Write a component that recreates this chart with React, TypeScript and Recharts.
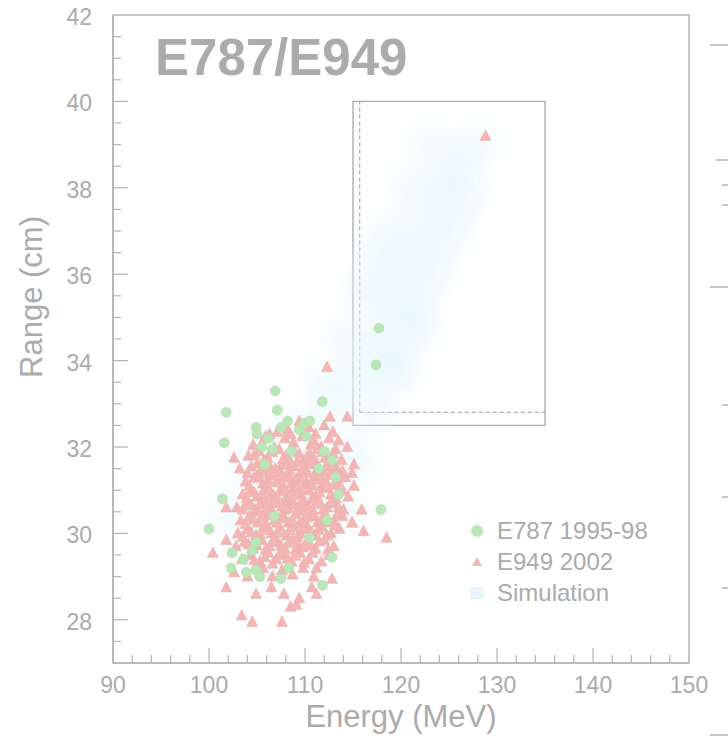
import React from 'react';
import {
  ScatterChart,
  Scatter,
  XAxis,
  YAxis,
  ReferenceArea,
  ReferenceLine,
} from 'recharts';

// tick positions (majors get labels)
const xTicks = [90, 92, 94, 96, 98, 100, 102, 104, 106, 108, 110, 112, 114, 116, 118, 120, 122, 124, 126, 128, 130, 132, 134, 136, 138, 140, 142, 144, 146, 148, 150];
const yTicks = [27, 27.5, 28, 28.5, 29, 29.5, 30, 30.5, 31, 31.5, 32, 32.5, 33, 33.5, 34, 34.5, 35, 35.5, 36, 36.5, 37, 37.5, 38, 38.5, 39, 39.5, 40, 40.5, 41, 41.5, 42];

// [energy MeV, range cm]
const e787: number[][] = [
  [106.9, 33.3], [101.8, 32.8], [101.6, 32.1], [107.1, 32.85], [111.8, 33.05], [104.9, 32.45],
  [107.5, 32.45], [105.5, 32.0], [106.6, 31.95], [109.4, 32.4], [110.1, 32.25], [112.8, 31.7],
  [113.2, 31.3], [101.4, 30.8], [100.0, 30.1], [117.9, 30.55], [102.4, 29.55], [103.9, 29.1],
  [104.9, 29.15], [104.5, 29.6], [104.9, 29.8], [107.5, 28.95], [111.8, 28.8], [112.8, 29.45],
  [112.3, 30.3], [102.3, 29.2], [117.7, 34.75], [117.4, 33.9], [106.2, 32.2], [108.2, 32.6],
  [109.9, 32.55], [108.6, 31.9], [105.8, 31.6], [111.4, 31.5], [106.8, 30.4], [113.5, 30.9],
  [103.6, 29.4], [105.3, 29.0], [110.5, 29.9], [108.3, 29.2], [105.0, 32.3], [110.5, 32.6],
  [112.0, 31.9],
];

const e949: number[][] = [
  [108.2, 32.4], [109.4, 32.6], [110.4, 32.45], [111.1, 32.3], [107.1, 32.35], [112.0, 32.5], [106.3, 32.3],
  [105.5, 32.1], [106.8, 32.0], [107.9, 32.2], [108.8, 32.1], [109.7, 32.25], [110.6, 32.05], [111.7, 32.0],
  [112.5, 32.2], [113.5, 32.15], [114.4, 32.0], [104.6, 32.05],
  [104.1, 31.8], [105.2, 31.9], [106.1, 31.75], [107.3, 31.95], [108.0, 31.8], [108.9, 31.9], [109.8, 31.7],
  [110.5, 31.85], [111.3, 31.95], [112.1, 31.75], [112.9, 31.85], [113.8, 31.7], [102.6, 31.75],
  [103.2, 31.5], [104.4, 31.55], [105.3, 31.45], [106.0, 31.65], [106.9, 31.5], [107.6, 31.6], [108.4, 31.45],
  [109.2, 31.65], [110.0, 31.5], [110.8, 31.6], [111.6, 31.45], [112.4, 31.65], [113.3, 31.5], [114.9, 31.4],
  [105.8, 31.4], [108.9, 31.55], [110.3, 31.4],
  [103.8, 31.2], [104.7, 31.3], [105.6, 31.15], [106.5, 31.35], [107.2, 31.2], [107.9, 31.3], [108.6, 31.15],
  [109.4, 31.35], [110.1, 31.2], [110.9, 31.3], [111.8, 31.15], [112.6, 31.35], [113.4, 31.2], [114.2, 31.3],
  [115.1, 31.1], [106.1, 31.25], [109.0, 31.25], [111.2, 31.25], [108.2, 31.38],
  [103.5, 30.9], [104.3, 31.0], [105.0, 30.85], [105.9, 31.05], [106.7, 30.9], [107.4, 31.0], [108.1, 30.85],
  [108.8, 31.05], [109.6, 30.9], [110.4, 31.0], [111.1, 30.85], [111.9, 31.05], [112.7, 30.9], [113.6, 31.0],
  [114.5, 30.85], [106.2, 30.8], [109.2, 30.95], [110.8, 31.1], [107.8, 31.08],
  [102.9, 30.6], [103.9, 30.7], [104.8, 30.55], [105.6, 30.75], [106.4, 30.6], [107.1, 30.7], [107.9, 30.55],
  [108.5, 30.75], [109.3, 30.6], [110.0, 30.7], [110.8, 30.55], [111.5, 30.75], [112.3, 30.6], [113.1, 30.7],
  [114.0, 30.55], [115.9, 30.55], [105.2, 30.5], [109.7, 30.52], [108.0, 30.78],
  [103.3, 30.3], [104.2, 30.4], [105.1, 30.25], [105.9, 30.45], [106.8, 30.3], [107.5, 30.4], [108.3, 30.25],
  [109.0, 30.45], [109.8, 30.3], [110.6, 30.4], [111.3, 30.25], [112.1, 30.45], [113.0, 30.3], [113.9, 30.4],
  [114.9, 30.25], [106.0, 30.2], [110.2, 30.2],
  [101.8, 29.85], [103.0, 30.0], [104.0, 30.1], [104.9, 29.95], [105.7, 30.15], [106.5, 30.0], [107.3, 30.1],
  [108.1, 29.95], [108.8, 30.15], [109.5, 30.0], [110.3, 30.1], [111.0, 29.95], [111.8, 30.15], [112.7, 30.0],
  [113.6, 30.1], [116.1, 30.05], [118.5, 29.9],
  [102.8, 29.7], [103.7, 29.8], [104.6, 29.65], [105.5, 29.85], [106.3, 29.7], [107.1, 29.8], [107.9, 29.65],
  [108.7, 29.85], [109.4, 29.7], [110.2, 29.8], [111.1, 29.65], [112.0, 29.85], [113.0, 29.7], [100.4, 29.55],
  [103.4, 29.4], [104.3, 29.5], [105.3, 29.35], [106.2, 29.55], [107.0, 29.4], [107.8, 29.5], [108.6, 29.35],
  [109.5, 29.55], [110.4, 29.4], [111.7, 29.35], [112.5, 29.5],
  [102.6, 29.1], [104.0, 29.0], [105.6, 29.2], [106.6, 29.0], [107.6, 29.15], [108.7, 29.05], [109.8, 29.2],
  [110.9, 29.0], [112.8, 28.95], [104.9, 29.25],
  [101.8, 28.75], [104.9, 28.6], [106.5, 28.75], [107.8, 28.6], [108.5, 28.3], [109.1, 28.35], [110.7, 28.75],
  [111.2, 28.6], [103.4, 28.1], [104.5, 27.95], [107.6, 27.95], [109.4, 28.5],
  [101.8, 30.6], [112.3, 33.85], [112.6, 32.7], [114.4, 32.7], [128.8, 39.2], [115.1, 31.6], [114.9, 30.25],
  // dense core
  [105.9, 32.25], [108.5, 32.3], [110.9, 32.15], [112.9, 32.35],
  [104.7, 31.82], [105.7, 31.7], [106.6, 31.88], [107.7, 31.72], [108.5, 31.65], [109.4, 31.85], [110.2, 31.78],
  [111.0, 31.72], [111.8, 31.88], [112.6, 31.55], [113.2, 31.95],
  [104.0, 31.4], [105.0, 31.62], [106.4, 31.52], [107.3, 31.42], [108.1, 31.58], [109.6, 31.45], [110.5, 31.62],
  [111.3, 31.5], [112.0, 31.42], [112.9, 31.58], [113.9, 31.45],
  [104.2, 31.1], [105.2, 31.28], [106.0, 31.08], [106.9, 31.18], [107.6, 31.35], [108.4, 31.28], [109.2, 31.1],
  [109.8, 31.28], [110.6, 31.15], [111.5, 31.35], [112.2, 31.2], [113.0, 31.12], [113.8, 31.3],
  [103.9, 30.82], [104.7, 30.95], [105.5, 30.92], [106.3, 31.0], [107.1, 30.85], [107.9, 30.98], [108.5, 30.9],
  [109.9, 31.05], [110.7, 30.8], [111.5, 30.95], [112.3, 31.08], [113.2, 30.82], [114.0, 30.98],
  [103.5, 30.55], [104.4, 30.65], [105.3, 30.68], [106.0, 30.6], [106.8, 30.72], [107.6, 30.62], [108.3, 30.58],
  [108.9, 30.68], [109.6, 30.75], [110.4, 30.62], [111.2, 30.68], [111.9, 30.55], [112.7, 30.72], [113.5, 30.6],
  [103.8, 30.22], [104.6, 30.32], [105.5, 30.38], [106.4, 30.42], [107.1, 30.25], [107.9, 30.35], [108.7, 30.3],
  [109.4, 30.22], [110.2, 30.38], [111.0, 30.42], [111.7, 30.3], [112.5, 30.25], [113.4, 30.45],
  [103.5, 29.92], [104.4, 30.02], [105.3, 29.98], [106.1, 30.08], [106.9, 29.92], [107.7, 30.02], [108.4, 30.08],
  [109.2, 29.92], [109.9, 30.12], [110.7, 30.02], [111.4, 30.08], [112.3, 29.95], [113.2, 30.18],
  [104.1, 29.75], [105.0, 29.72], [105.9, 29.62], [106.7, 29.82], [107.5, 29.72], [108.3, 29.78], [109.0, 29.62],
  [109.8, 29.68], [110.6, 29.72], [111.5, 29.82], [112.4, 29.62],
  [104.7, 29.38], [105.8, 29.45], [106.6, 29.3], [107.4, 29.55], [108.2, 29.42], [109.0, 29.48], [109.9, 29.32],
  [110.8, 29.55], [111.2, 29.2],
];

const simulation: number[][] = [
  [106, 30], [108, 30.5], [110, 31], [112, 31.5], [114, 32], [113, 33], [115, 33.5], [116, 34], [117, 34.5],
  [118, 35], [119, 35.5], [120, 36], [121, 36.5], [122, 37], [123, 37.5], [124, 38], [125, 38.3], [126, 38.7],
  [118, 33.5], [120, 34.5], [122, 35.5], [124, 36.5], [126, 37.5], [117, 36], [119, 37], [121, 38], [123, 39],
  [114, 34.5], [116, 35.5], [112, 33.5], [110, 32.5], [108, 31.5], [106, 29], [104, 30], [120, 33.8],
  [122, 34.8], [118, 36.5], [115, 31.5], [117, 32.8], [119, 34], [121, 35], [123, 36], [125, 37], [127, 38],
  [128, 39], [102, 30.5], [104, 31.5], [110, 29.5], [114, 30.5],
];

const toPts = (arr: number[][]) => arr.map(([e, r]) => ({ e, r }));

const AXIS = '#b4b4b4';
const TXT = '#ababab';
const BOX = '#a8a8a8';
const PINK = '#f3b6b4';
const GREEN = '#bae6b8';
const BLUE = '#e6f6fb';
const FONT = '"Liberation Sans", Arial, sans-serif';

const XTick = (props: any) => {
  const { x, y, payload } = props;
  const v = payload.value;
  const major = v % 10 === 0;
  return (
    <g>
      {v !== 90 && v !== 150 && (
        <line x1={x} x2={x} y1={y} y2={y - (major ? 15 : 8)} stroke={AXIS} strokeWidth={1.2} />
      )}
      {major && (
        <text x={x} y={y + 22} textAnchor="middle" dominantBaseline="central" fontSize={23} fill={TXT} fontFamily={FONT}>
          {v}
        </text>
      )}
    </g>
  );
};

const YTick = (props: any) => {
  const { x, y, payload } = props;
  const v = payload.value;
  const major = Number.isInteger(v) && v % 2 === 0;
  return (
    <g>
      {v !== 27 && v !== 42 && (
        <line x1={x} x2={x + (major ? 15 : 8)} y1={y} y2={y} stroke={AXIS} strokeWidth={1.2} />
      )}
      {major && (
        <text x={x - 21} y={y + 2} textAnchor="end" dominantBaseline="central" fontSize={23} fill={TXT} fontFamily={FONT}>
          {v}
        </text>
      )}
    </g>
  );
};

const Triangle = (props: any) => {
  const { cx, cy } = props;
  return (
    <polygon
      points={`${cx},${cy - 6} ${cx - 5.5},${cy + 4.5} ${cx + 5.5},${cy + 4.5}`}
      fill={PINK}
      stroke="#eaaeac"
      strokeWidth={0.6}
    />
  );
};

const Dot = (props: any) => {
  const { cx, cy } = props;
  return <circle cx={cx} cy={cy} r={5} fill={GREEN} stroke="#afdcad" strokeWidth={0.6} />;
};

// soft blob for the simulated distribution
const Cloud = (props: any) => {
  const { cx, cy, index } = props;
  return (
    <g>
      {index === 0 && (
        <defs>
          <radialGradient id="simGlow">
            <stop offset="0%" stopColor="#e2f5fa" stopOpacity={0.42} />
            <stop offset="60%" stopColor="#e8f7fb" stopOpacity={0.22} />
            <stop offset="100%" stopColor="#eef9fc" stopOpacity={0} />
          </radialGradient>
        </defs>
      )}
      <circle cx={cx} cy={cy} r={34} fill="url(#simGlow)" />
    </g>
  );
};

const YLabel = () => (
  <text
    x={42}
    y={297}
    transform="rotate(-90, 42, 297)"
    textAnchor="middle"
    fontSize={31}
    fill={TXT}
    fontFamily={FONT}
  >
    Range (cm)
  </text>
);

const rightMarks = [
  { y: 45, w: 18 },
  { y: 160, w: 12 },
  { y: 185, w: 6 },
  { y: 205, w: 6 },
  { y: 287, w: 18 },
  { y: 405, w: 6 },
  { y: 497, w: 6 },
  { y: 588, w: 6 },
  { y: 735, w: 18 },
];

const legendItems = [
  { label: 'E787 1995-98', kind: 'dot' },
  { label: 'E949 2002', kind: 'tri' },
  { label: 'Simulation', kind: 'sim' },
];

const LegendMarker = ({ kind }: { kind: string }) => (
  <svg width={18} height={18} style={{ marginRight: 11 }}>
    {kind === 'dot' && <circle cx={9} cy={9} r={6} fill={GREEN} />}
    {kind === 'tri' && <polygon points="9,4 4,13 14,13" fill={PINK} />}
    {kind === 'sim' && <rect x={2} y={3} width={14} height={12} fill={BLUE} />}
  </svg>
);

export default function App() {
  return (
    <div
      style={{
        position: 'absolute',
        left: 0,
        top: 0,
        width: 728,
        height: 741,
        background: '#fff',
        fontFamily: FONT,
        overflow: 'hidden',
      }}
    >
      <ScatterChart width={728} height={741} margin={{ top: 15, right: 39, bottom: 0, left: 0 }}>
        <XAxis
          type="number"
          dataKey="e"
          domain={[90, 150]}
          ticks={xTicks}
          interval={0}
          allowDataOverflow
          tickSize={0}
          tickMargin={0}
          tickLine={false}
          tick={<XTick />}
          height={78}
          axisLine={{ stroke: AXIS, strokeWidth: 1.5 }}
          label={{ value: 'Energy (MeV)', position: 'insideBottom', offset: 14, fontSize: 31, fill: TXT, fontFamily: FONT }}
        />
        <YAxis
          type="number"
          dataKey="r"
          domain={[27, 42]}
          ticks={yTicks}
          interval={0}
          allowDataOverflow
          tickSize={0}
          tickMargin={0}
          tickLine={false}
          tick={<YTick />}
          width={113}
          axisLine={{ stroke: AXIS, strokeWidth: 1.5 }}
          label={<YLabel />}
        />
        <ReferenceArea x1={90} x2={150} y1={27} y2={42} fill="none" stroke={AXIS} strokeWidth={1.5} />
        <Scatter data={toPts(simulation)} shape={<Cloud />} isAnimationActive={false} />
        <Scatter data={toPts(e949)} shape={<Triangle />} isAnimationActive={false} />
        <Scatter data={toPts(e787)} shape={<Dot />} isAnimationActive={false} />
        <ReferenceArea x1={115} x2={135} y1={32.5} y2={40} fill="none" stroke={BOX} strokeWidth={1.3} />
        <ReferenceLine
          segment={[{ x: 115.7, y: 32.8 }, { x: 115.7, y: 40 }]}
          stroke={BOX}
          strokeDasharray="4 3"
          strokeWidth={1.2}
        />
        <ReferenceLine
          segment={[{ x: 115.7, y: 32.8 }, { x: 135, y: 32.8 }]}
          stroke={BOX}
          strokeDasharray="4 3"
          strokeWidth={1.2}
        />
      </ScatterChart>

      <div
        style={{
          position: 'absolute',
          left: 155,
          top: 28,
          fontSize: 51,
          fontWeight: 'bold',
          color: TXT,
          lineHeight: '60px',
        }}
      >
        E787/E949
      </div>

      <div style={{ position: 'absolute', left: 468, top: 515, color: TXT, fontSize: 24 }}>
        {legendItems.map((it) => (
          <div key={it.label} style={{ display: 'flex', alignItems: 'center', height: 31 }}>
            <LegendMarker kind={it.kind} />
            <span>{it.label}</span>
          </div>
        ))}
      </div>

      <svg width={728} height={741} style={{ position: 'absolute', left: 0, top: 0, pointerEvents: 'none' }}>
        {rightMarks.map((m) => (
          <line key={m.y} x1={728 - m.w} x2={728} y1={m.y} y2={m.y} stroke={AXIS} strokeWidth={1.5} />
        ))}
      </svg>
    </div>
  );
}
